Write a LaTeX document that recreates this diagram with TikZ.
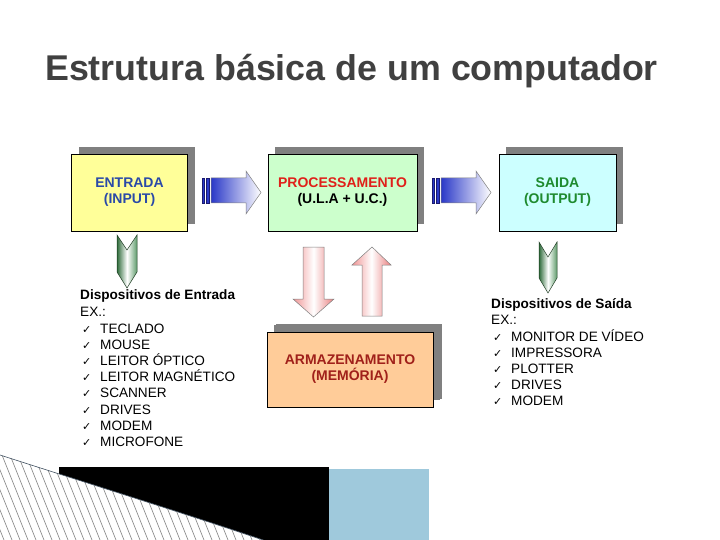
\documentclass[tikz,border=0pt]{standalone}
\usepackage{fontspec}
\setmainfont{Liberation Sans}
\newfontfamily\dejavu{DejaVu Sans}
\usetikzlibrary{shadows}
\definecolor{titlegray}{HTML}{404040}
\definecolor{shadowgray}{HTML}{808080}
\definecolor{infill}{HTML}{FFFF99}
\definecolor{intext}{HTML}{2A4AA8}
\definecolor{procfill}{HTML}{CCFFCC}
\definecolor{procred}{HTML}{E0201A}
\definecolor{outfill}{HTML}{CCFFFF}
\definecolor{outtext}{HTML}{1E8A2E}
\definecolor{memfill}{HTML}{FFCC99}
\definecolor{memtext}{HTML}{A0201A}
\definecolor{arrowblue}{HTML}{2A38C8}
\definecolor{arrowbluedark}{HTML}{1A1A70}
\definecolor{greendark}{HTML}{2E6B3A}
\definecolor{greenmid}{HTML}{5E9B6A}
\definecolor{greenline}{HTML}{1E3B22}
\definecolor{pinkedge}{HTML}{F09494}
\definecolor{pinkright}{HTML}{EA8080}
\definecolor{hatchgray}{HTML}{808080}
\definecolor{edgeline}{HTML}{405060}
\definecolor{paleblue}{HTML}{9FC9DC}
\tikzset{
  mainbox/.style={draw=black, line width=0.6pt, minimum height=77pt, inner sep=0pt,
    align=center, font=\fontsize{14}{16}\selectfont\bfseries,
    general shadow={fill=shadowgray, shadow xshift=7pt, shadow yshift=7pt}},
  listhead/.style={anchor=base west, inner sep=0pt, font=\fontsize{13.6}{16}\selectfont\bfseries},
  listitem/.style={anchor=base west, inner sep=0pt, font=\fontsize{13.6}{16}\selectfont},
  checkmark/.style={anchor=base west, inner sep=0pt, font=\dejavu\fontsize{11}{12}\selectfont},
  blockarrow/.style={draw=gray, line width=0.5pt},
}
\begin{document}
\begin{tikzpicture}[x=1pt,y=-1pt]
\useasboundingbox (0,0) rectangle (720,540);
\fill[white] (0,0) rectangle (720,540);

% title
\node[anchor=base west, inner sep=0pt, text=titlegray, font=\fontsize{35.8}{40}\selectfont\bfseries] (title) at (45,80.5) {Estrutura básica de um computador};

% main boxes
\node[mainbox, fill=infill, text=intext, minimum width=116pt] (in) at (129.5,192.5) {ENTRADA\\(INPUT)};
\node[mainbox, fill=procfill, minimum width=149pt] (proc) at (342.5,192.5) {\textcolor{procred}{PROCESSAMENTO}\\(U.L.A + U.C.)};
\node[mainbox, fill=outfill, text=outtext, minimum width=117pt] (out) at (557.5,192.5) {SAIDA\\(OUTPUT)};
\node[mainbox, fill=memfill, text=memtext, minimum width=166pt, minimum height=75pt,
  general shadow={fill=shadowgray, shadow xshift=9pt, shadow yshift=8pt}] (mem) at (350,369.5) {ARMAZENAMENTO\\(MEMÓRIA)};

% blue block arrows
\foreach \dx in {0,230}{
\begin{scope}[shift={(\dx,0)}]
  \filldraw[fill=arrowblue, draw=arrowbluedark, line width=0.4pt] (202,178) rectangle (204.5,203);
  \filldraw[fill=arrowblue, draw=arrowbluedark, line width=0.4pt] (206,178) rectangle (209.5,203);
  \draw[blockarrow, left color=arrowblue, right color=white] (211,178) -- (246,178) -- (246,171) -- (261,192.5) -- (246,214) -- (246,203) -- (211,203) -- cycle;
\end{scope}}

% green chevron arrows
\draw[draw=greenline, line width=0.5pt, left color=greendark, right color=greenmid, middle color=white]
  (117,235) -- (127,250) -- (137,235) -- (137,272) -- (127,288) -- (117,272) -- cycle;
\draw[draw=greenline, line width=0.5pt, left color=greendark, right color=greenmid, middle color=white]
  (539,242) -- (548,257) -- (557,242) -- (557,278) -- (548,293) -- (539,278) -- cycle;

% red block arrows
\draw[blockarrow, left color=pinkedge, right color=pinkright, middle color=white]
  (303,247) -- (324,247) -- (324,299) -- (334,299) -- (313.5,317) -- (293,299) -- (303,299) -- cycle;
\draw[blockarrow, left color=pinkedge, right color=pinkright, middle color=white]
  (362,316) -- (382,316) -- (382,265) -- (391,265) -- (372,247) -- (352,265) -- (362,265) -- cycle;

% input list
\node[listhead] (inhead) at (80,299) {Dispositivos de Entrada};
\node[listitem] (inex) at (80,316) {EX.:};
\foreach \t [count=\i from 0] in {TECLADO,MOUSE,LEITOR ÓPTICO,LEITOR MAGNÉTICO,SCANNER,DRIVES,MODEM,MICROFONE}{
  \node[checkmark] (inchk\i) at (82,333+16.2*\i) {✓};
  \node[listitem] (init\i) at (100,333+16.2*\i) {\t};
}

% output list
\node[listhead] (outhead) at (491,308) {Dispositivos de Saída};
\node[listitem] (outex) at (491,324) {EX.:};
\foreach \t [count=\i from 0] in {MONITOR DE VÍDEO,IMPRESSORA,PLOTTER,DRIVES,MODEM}{
  \node[checkmark] (outchk\i) at (493,341+16.2*\i) {✓};
  \node[listitem] (outit\i) at (511,341+16.2*\i) {\t};
}

% bottom decoration
\fill[black] (59,467) rectangle (329,541);
\fill[paleblue] (329,469) rectangle (429,541);
\begin{scope}
  \clip (0,455) .. controls (90,484) and (180,512) .. (266,541) -- (0,541) -- cycle;
  \fill[white] (0,440) rectangle (280,541);
  \foreach \i in {-60,-52,...,280} \draw[hatchgray, line width=0.6pt] (\i,440) -- ++(40,100);
\end{scope}
\draw[edgeline, line width=0.6pt] (0,455) .. controls (90,484) and (180,512) .. (266,541);
\end{tikzpicture}
\end{document}
